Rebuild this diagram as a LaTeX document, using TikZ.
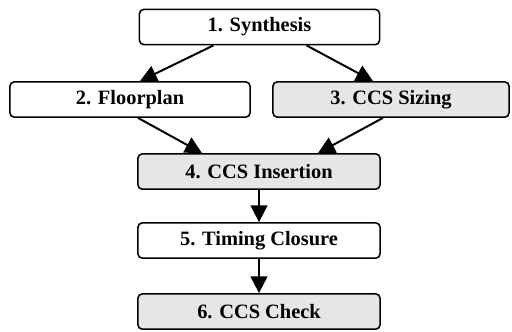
\documentclass[tikz,border=0pt]{standalone}
\usepackage{fontspec}
\setmainfont{Liberation Serif}
\usepackage{tikz}
\usetikzlibrary{positioning,arrows.meta,calc}
\definecolor{flowshade}{HTML}{E6E6E6}

\begin{document}
\begin{tikzpicture}[x=0.025cm,y=-0.025cm,
  stage/.style={draw=black,line width=1.1pt,rounded corners=3pt,minimum height=0.88cm,font=\fontsize{14.5}{16}\selectfont\bfseries,inner sep=0pt},
  shaded/.style={fill=flowshade},
  arr/.style={-{Triangle[length=4.2mm,width=4.2mm]},line width=1.4pt}
]
\useasboundingbox (0,0) rectangle (512,331);
\node[stage,minimum width=6.0cm] (syn) at (259.5,27) {1. Synthesis};
\node[stage,minimum width=6.0cm] (flr) at (130,99.5) {2. Floorplan};
\node[stage,shaded,minimum width=5.9cm] (siz) at (391,99.5) {3. CCS Sizing};
\node[stage,shaded,minimum width=6.05cm] (ins) at (259,171.5) {4. CCS Insertion};
\node[stage,minimum width=6.05cm] (tim) at (259,240.5) {5. Timing Closure};
\node[stage,shaded,minimum width=6.05cm] (chk) at (259,311.5) {6. CCS Check};

\draw[arr] ($(syn.south)+(-46,0)$) -- ($(flr.north)+(10,0)$);
\draw[arr] ($(syn.south)+(47,0)$) -- ($(siz.north)+(-18,0)$);
\draw[arr] ($(flr.south)+(8,0)$) -- ($(ins.north)+(-57,0)$);
\draw[arr] ($(siz.south)+(-8,0)$) -- ($(ins.north)+(59,0)$);
\draw[arr] (ins) -- (tim);
\draw[arr] (tim) -- (chk);
\end{tikzpicture}
\end{document}
